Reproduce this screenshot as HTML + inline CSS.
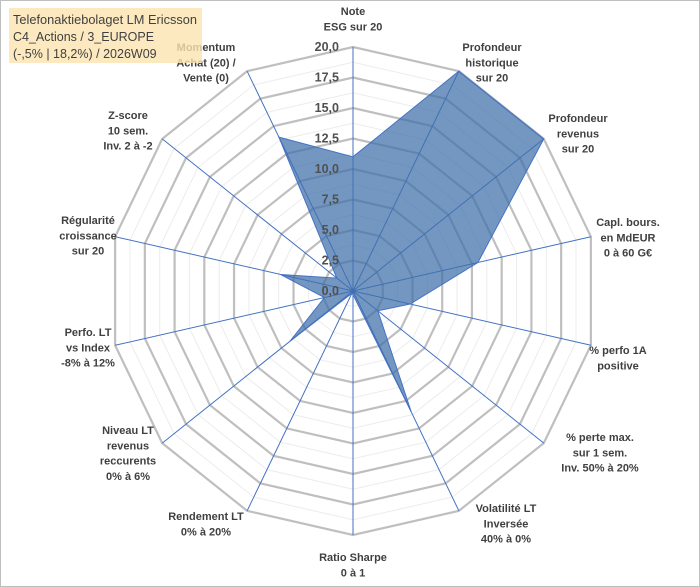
<!DOCTYPE html>
<html><head><meta charset="utf-8"><style>
body{margin:0;background:#fff}
svg{display:block;font-family:"Liberation Sans",Arial,sans-serif}
</style></head><body>
<svg id="c" width="700" height="587" viewBox="0 0 700 587" xmlns="http://www.w3.org/2000/svg">
<rect x="0.5" y="0.5" width="699" height="586" fill="#fff" stroke="#bfbfbf"/>
<g id="grid"></g><g id="spokes"></g><g id="series"></g><g id="ticks"></g><g id="labels"></g>
<g>
<rect x="9" y="8" width="193" height="55" fill="#fde3b0" opacity="0.8"/>
<text x="13" y="24" font-size="12.5" fill="#404040" textLength="184" lengthAdjust="spacingAndGlyphs">Telefonaktiebolaget LM Ericsson</text>
<text x="13" y="41" font-size="12.5" fill="#404040">C4_Actions / 3_EUROPE</text>
<text x="13" y="58" font-size="12.5" fill="#404040">(-,5% | 18,2%) / 2026W09</text>
</g>
</svg>
<script>
const categories=["Note|ESG sur 20","Profondeur|historique|sur 20","Profondeur|revenus|sur 20","Capl. bours.|en MdEUR|0 à 60 G€","% perfo 1A|positive","% perte max.|sur 1 sem.|Inv. 50% à 20%","Volatilité LT|Inversée|40% à 0%","Ratio Sharpe|0 à 1","Rendement LT|0% à 20%","Niveau LT|revenus|reccurents|0% à 6%","Perfo. LT|vs Index|-8% à 12%","Régularité|croissance|sur 20","Z-score|10 sem.|Inv. 2 à -2","Momentum|Achat (20) /|Vente (0)"];
const values=[11,20,20,10.5,4.8,2.6,11,0.3,0.2,6.6,2.4,6.1,1.7,14];
const tickLabels=["0,0","2,5","5,0","7,5","10,0","12,5","15,0","17,5","20,0"];
const labelPos=[[353,11],[492,47],[578,118],[628,222],[618,350],[600,437],[506,508],[353,557],[206,516],[128,430],[88,332],[88,220],[128,115],[206,47]];
const NS="http://www.w3.org/2000/svg",cx=353,cy=291,R=244,MAX=20,N=categories.length;
function pt(i,v){const a=2*Math.PI*i/N;const r=v/MAX*R;return [cx+r*Math.sin(a),cy-r*Math.cos(a)];}
function mk(tag,at,parent){const e=document.createElementNS(NS,tag);for(const k in at)e.setAttribute(k,at[k]);document.getElementById(parent).appendChild(e);return e;}
for(let s=1;s<=16;s++){const v=s*1.25;const p=[];for(let i=0;i<N;i++)p.push(pt(i,v).join(","));
const major=s%2===0;
const g=mk("polygon",{points:p.join(" "),fill:"none",stroke:major?"#bfbfbf":"#ececec","stroke-width":major?2.2:1},"grid");

}
for(let i=0;i<N;i++){const e=pt(i,MAX);const l=mk("line",{x1:cx,y1:cy,x2:e[0],y2:e[1],stroke:"#4472c4","stroke-width":1},"spokes");

}
const poly=mk("polygon",{points:values.map((v,i)=>pt(i,v).join(",")).join(" "),fill:"#3f6fab","fill-opacity":0.72,stroke:"#4472c4","stroke-width":1},"series");


tickLabels.forEach((t,k)=>{const y=cy-k*2.5/MAX*R+4;const e=mk("text",{x:339,y:y,"text-anchor":"end","font-size":12.5,"font-weight":"bold",fill:"#505050"},"ticks");e.textContent=t;

});
categories.forEach((c,i)=>{const lines=c.split("|");const [x,y]=labelPos[i];lines.forEach((ln,j)=>{const e=mk("text",{x:x,y:y+j*15.3+4,"text-anchor":"middle","font-size":11,"font-weight":"bold",fill:"#404040"},"labels");e.textContent=ln;

});});
</script>
</body></html>
